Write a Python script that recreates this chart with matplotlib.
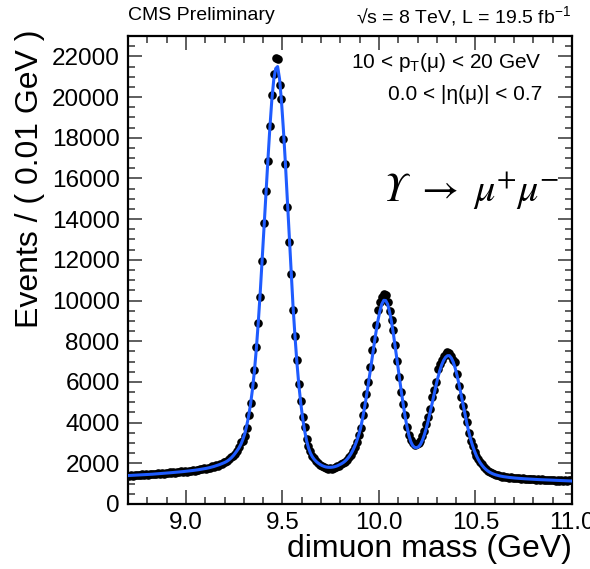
import numpy as np
import matplotlib
matplotlib.use("Agg")
import matplotlib.pyplot as plt
from matplotlib.ticker import MultipleLocator

plt.rcParams['font.family'] = ['Liberation Sans', 'DejaVu Sans']
plt.rcParams['mathtext.fontset'] = 'custom'
plt.rcParams['mathtext.rm'] = 'Liberation Sans'
plt.rcParams['mathtext.it'] = 'Liberation Sans:italic'
plt.rcParams['mathtext.bf'] = 'Liberation Sans:bold'

# ---- binning (0.01 GeV bins from 8.7 to 11.0 GeV) ----
mass_lo = 8.70
mass_hi = 11.00
bin_width = 0.01

# ---- data: events per bin ----
events = [
    1385, 1418, 1392, 1436, 1409, 1447, 1414, 1452, 1428, 1466,   # 8.705-8.795
    1441, 1470, 1452, 1489, 1466, 1502, 1480, 1511, 1495, 1530,   # 8.805-
    1508, 1549, 1522, 1566, 1541, 1579, 1553, 1598, 1569, 1617,   # 8.905-
    1595, 1641, 1618, 1664, 1640, 1690, 1662, 1722, 1698, 1756,   # 9.005-
    1731, 1792, 1770, 1846, 1822, 1905, 1878, 1972, 1951, 2048,   # 9.105-
    2070, 2120, 2220, 2300, 2380, 2460, 2600, 2800, 3040, 3100,   # 9.205-
    3360, 3730, 4380, 4960, 5860, 6600, 7710, 8910, 10170, 11950,  # 9.305-
    13830, 15400, 16870, 18600, 20100, 21130, 21900, 21850, 20570, 19900,  # 9.405-
    17960, 16700, 14600, 12860, 11320, 9550, 8280, 7100, 5910, 5080,  # 9.505-
    4270, 3770, 3200, 2850, 2620, 2380, 2250, 2130, 2000, 1920,   # 9.605-
    1860, 1830, 1760, 1740, 1780, 1730, 1760, 1820, 1850, 1890,   # 9.705-
    1950, 2010, 2080, 2150, 2300, 2410, 2600, 2810, 3040, 3380,   # 9.805-
    3730, 4350, 4870, 5410, 5990, 6730, 7550, 8120, 8780, 9510,   # 9.905-
    9930, 10150, 10300, 10250, 9930, 9470, 9020, 8530, 7830, 7050,  # 10.005-
    6240, 5500, 4920, 4350, 3770, 3380, 3160, 2990, 2920, 2950,   # 10.105-
    2980, 3120, 3360, 3610, 3920, 4300, 4650, 5250, 5600, 5990,   # 10.205-
    6640, 6890, 7080, 7250, 7390, 7460, 7430, 7280, 7100, 6970,   # 10.305-
    6400, 5820, 5250, 4840, 4430, 4020, 3500, 3100, 2870, 2560,   # 10.405-
    2380, 2200, 2050, 1970, 1810, 1700, 1640, 1560, 1530, 1470,   # 10.505-
    1440, 1410, 1390, 1350, 1370, 1320, 1335, 1300, 1310, 1270,   # 10.605-
    1290, 1255, 1275, 1240, 1262, 1228, 1250, 1215, 1240, 1205,   # 10.705-
    1225, 1195, 1215, 1180, 1208, 1175, 1198, 1166, 1190, 1158,   # 10.805-
    1182, 1150, 1175, 1142, 1168, 1135, 1160, 1128, 1155, 1170,   # 10.905-10.995
]

# ---- fit curve value at each bin centre ----
fit = [
    1400, 1405, 1410, 1415, 1420, 1425, 1430, 1435, 1440, 1445,
    1450, 1457, 1464, 1471, 1478, 1485, 1492, 1500, 1508, 1516,
    1524, 1532, 1540, 1548, 1556, 1565, 1574, 1583, 1592, 1602,
    1612, 1623, 1634, 1646, 1658, 1671, 1685, 1700, 1716, 1732,
    1750, 1770, 1793, 1818, 1845, 1875, 1905, 1940, 1977, 2017,
    2060, 2115, 2185, 2270, 2370, 2490, 2620, 2760, 2940, 3170,
    3460, 3850, 4330, 4920, 5650, 6550, 7650, 8950, 10400, 12000,
    13650, 15300, 16950, 18500, 19850, 20850, 21400, 21500, 20900, 19800,
    18400, 16800, 15000, 13150, 11350, 9700, 8250, 6950, 5850, 4950,
    4200, 3600, 3120, 2760, 2500, 2320, 2190, 2090, 2010, 1945,
    1890, 1850, 1820, 1805, 1800, 1805, 1820, 1845, 1880, 1925,
    1975, 2035, 2110, 2205, 2320, 2465, 2640, 2850, 3100, 3390,
    3730, 4200, 4720, 5290, 5900, 6540, 7200, 7850, 8470, 9030,
    9490, 9830, 10010, 10000, 9820, 9450, 8950, 8350, 7680, 6980,
    6270, 5580, 4930, 4330, 3810, 3380, 3060, 2870, 2780, 2770,
    2810, 2930, 3130, 3400, 3720, 4090, 4500, 4930, 5370, 5800,
    6200, 6550, 6840, 7060, 7210, 7290, 7290, 7175, 6970, 6675,
    6300, 5870, 5410, 4925, 4440, 3980, 3550, 3180, 2870, 2600,
    2370, 2180, 2020, 1890, 1780, 1690, 1615, 1555, 1505, 1465,
    1432, 1405, 1382, 1362, 1345, 1330, 1317, 1305, 1294, 1284,
    1275, 1267, 1259, 1252, 1245, 1239, 1233, 1227, 1221, 1216,
    1211, 1206, 1201, 1196, 1192, 1188, 1184, 1180, 1176, 1172,
    1168, 1164, 1160, 1156, 1152, 1148, 1144, 1140, 1136, 1132,
]

x_ticks = [9.0, 9.5, 10.0, 10.5, 11.0]
x_ticklabels = ['9.0', '9.5', '10.0', '10.5', '11.0']
y_ticks = [0, 2000, 4000, 6000, 8000, 10000, 12000, 14000, 16000, 18000, 20000, 22000]

n_bins = len(events)
centres = mass_lo + bin_width * (np.arange(n_bins) + 0.5)

W, H = 590, 569
fig = plt.figure(figsize=(W / 100, H / 100), dpi=100)
L, R, T, B = 128, 572, 36, 504
ax = fig.add_axes([L / W, 1 - B / H, (R - L) / W, (B - T) / H])

ax.plot(centres, events, 'o', color='black', ms=6.2, mew=0, zorder=2)
ax.plot(centres, fit, '-', color='#1f5cff', lw=2.2, zorder=3)

ax.set_xlim(mass_lo, mass_hi)
ax.set_ylim(0, 23000)
ax.set_xticks(x_ticks)
ax.set_xticklabels(x_ticklabels)
ax.set_yticks(y_ticks)
ax.xaxis.set_minor_locator(MultipleLocator(0.1))
ax.yaxis.set_minor_locator(MultipleLocator(500))
ax.tick_params(which='both', direction='in', top=True, right=True, width=1.1, color='#333333')
ax.tick_params(which='major', length=10, labelsize=17.5, pad=6)
ax.tick_params(which='minor', length=5)
for s in ax.spines.values():
    s.set_linewidth(1.6)

fig.text(30 / W, 1 - 30 / H, 'Events / ( 0.01 GeV )', rotation=90, ha='center', va='top', fontsize=23)
fig.text(572 / W, 1 - 549 / H, 'dimuon mass (GeV)', ha='right', va='center', fontsize=23)

fig.text(128 / W, 1 - 16 / H, 'CMS Preliminary', ha='left', va='center', fontsize=14)
fig.text(571 / W, 1 - 16 / H, '\u221as = 8 TeV, L = 19.5 fb$^{-1}$', ha='right', va='center', fontsize=14)

fig.text(542 / W, 1 - 63 / H, '10 < p$_{\\mathregular{T}}$(\u03bc) < 20 GeV',
         ha='right', va='center', fontsize=15)
fig.text(542 / W, 1 - 94 / H, '0.0 < |\u03b7(\u03bc)| < 0.7', ha='right', va='center', fontsize=15)

fig.text(383 / W, 1 - 191 / H, '\u03a5 $\\rightarrow$ \u03bc$^{+}$\u03bc$^{-}$',
         family='STIXGeneral', style='italic', math_fontfamily='stix',
         ha='left', va='center', fontsize=29)

fig.savefig('out.png', dpi=100)
